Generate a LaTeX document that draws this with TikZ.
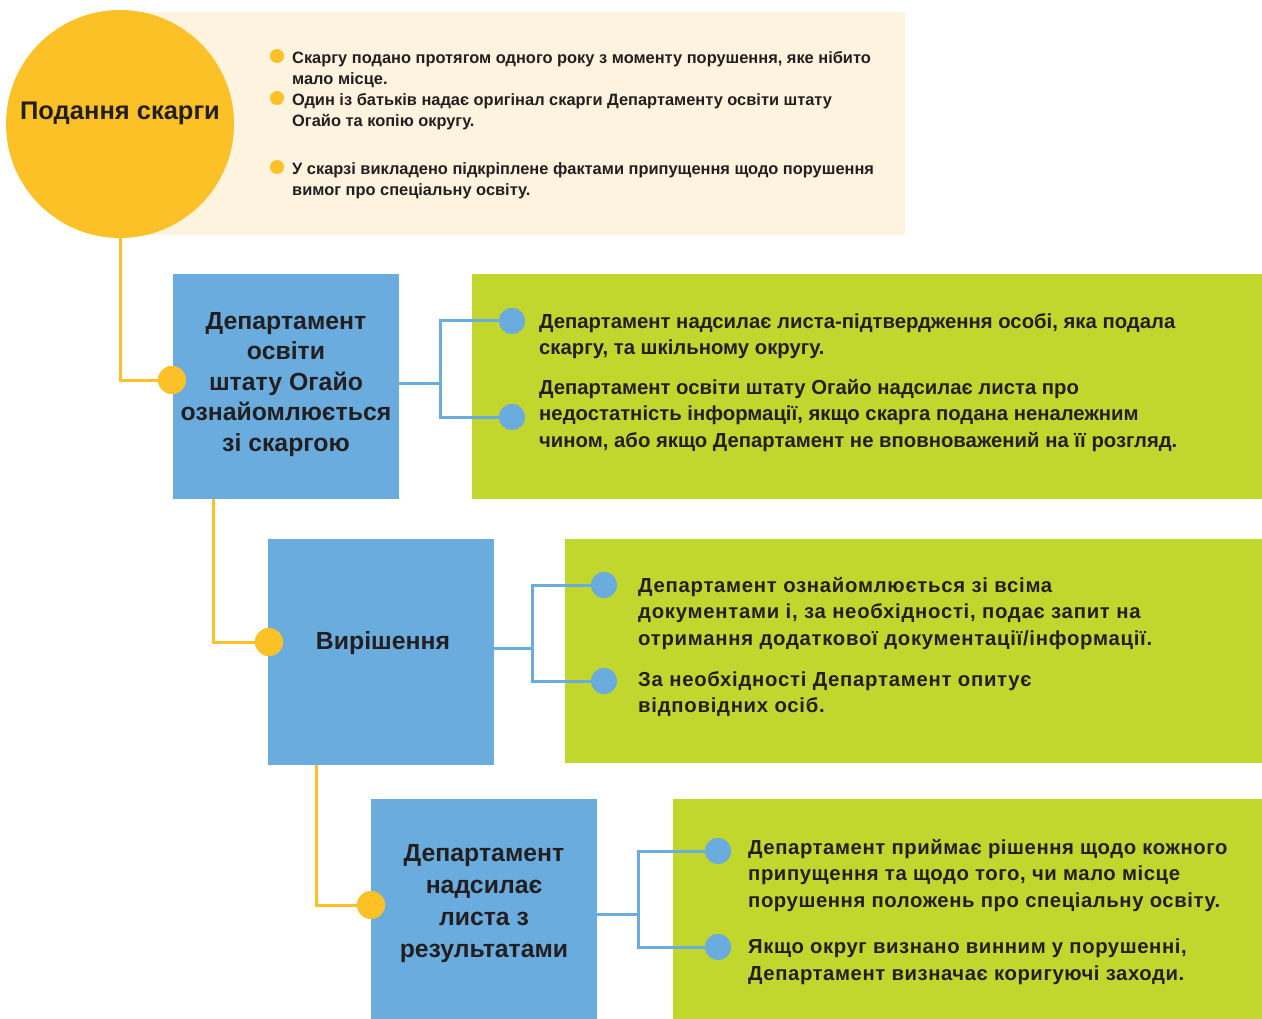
\documentclass[tikz,border=0pt]{standalone}
\usepackage{fontspec}
\setmainfont{Liberation Sans}
\newfontfamily\tfont{Liberation Sans}
\newfontfamily\gfontB{Liberation Sans}[LetterSpace=3.6]
\newfontfamily\gfontC{Liberation Sans}[LetterSpace=2.8]
\definecolor{yel}{HTML}{FCC127}
\definecolor{cream}{HTML}{FDF3DE}
\definecolor{blu}{HTML}{6AACDE}
\definecolor{grn}{HTML}{C1D72E}
\definecolor{ink}{HTML}{231F20}
\tikzset{
  panel/.style={fill=#1, draw=none, inner sep=0, anchor=north west},
  bluebox/.style={fill=blu, draw=none, inner sep=0, anchor=north west, minimum width=226pt},
  ydot/.style={circle, fill=yel, inner sep=0, minimum size=28pt},
  bdot/.style={circle, fill=blu, inner sep=0, minimum size=26pt},
  sdot/.style={circle, fill=yel, inner sep=0, minimum size=14pt},
  yline/.style={draw=yel, line width=3pt},
  bline/.style={draw=blu, line width=3pt},
  small/.style={anchor=north west, inner sep=0, align=left, text=ink,
    font=\tfont\bfseries\fontsize{16.4}{21}\selectfont, execute at begin node=\rule{0pt}{16pt}},
  gtext/.style={anchor=north west, inner sep=0, align=left, text=ink,
    font=\tfont\bfseries\fontsize{20.3}{26.5}\selectfont, execute at begin node=\rule{0pt}{20pt}},
  gtextB/.style={gtext, font=\gfontB\bfseries\fontsize{20.3}{26.5}\selectfont},
  gtextC/.style={gtext, font=\gfontC\bfseries\fontsize{20.3}{26.5}\selectfont},
  title/.style={anchor=north, inner sep=0, align=center, text=ink,
    font=\tfont\bfseries\fontsize{24.8}{30.5}\selectfont, execute at begin node=\rule{0pt}{24pt}},
}
\begin{document}
\begin{tikzpicture}[x=1pt,y=-1pt]
\useasboundingbox (0,0) rectangle (1262,1019);
% panels
\node[panel=cream, minimum width=787pt, minimum height=223pt] (cream) at (118,12) {};
\node[circle, fill=yel, inner sep=0, minimum size=228pt] (start) at (120,124) {};
\node[panel=grn, minimum width=790pt, minimum height=225pt] (g1) at (472,274) {};
\node[panel=grn, minimum width=697pt, minimum height=224pt] (g2) at (565,539) {};
\node[panel=grn, minimum width=589pt, minimum height=220pt] (g3) at (673,799) {};
\node[bluebox, minimum height=225pt] (b1) at (173,274) {};
\node[bluebox, minimum height=226pt] (b2) at (268,539) {};
\node[bluebox, minimum height=220pt] (b3) at (371,799) {};
% dots
\node[ydot] (y1) at (172,380) {};
\node[ydot] (y2) at (269,642) {};
\node[ydot] (y3) at (371,905) {};
\node[bdot] (d1a) at (512,321) {};
\node[bdot] (d1b) at (512,417) {};
\node[bdot] (d2a) at (604,585) {};
\node[bdot] (d2b) at (604,681) {};
\node[bdot] (d3a) at (718,851) {};
\node[bdot] (d3b) at (718,947) {};
\node[sdot] (s1) at (277,56) {};
\node[sdot] (s2) at (277,98) {};
\node[sdot] (s3) at (277,167) {};
% junction coordinates
\coordinate (j1) at (440,383);
\coordinate (j2) at (532,648);
\coordinate (j3) at (638,914);
\coordinate (o1) at (213,499);
\coordinate (o2) at (316,765);
% connectors
\draw[yline] (start.south) |- (y1.west);
\draw[yline] (o1) |- (y2.west);
\draw[yline] (o2) |- (y3.west);
\draw[bline] (b1.east |- j1) -- (j1);
\draw[bline] (d1a.west) -| (j1) |- (d1b.west);
\draw[bline] (b2.east |- j2) -- (j2);
\draw[bline] (d2a.west) -| (j2) |- (d2b.west);
\draw[bline] (b3.east |- j3) -- (j3);
\draw[bline] (d3a.west) -| (j3) |- (d3b.west);
% redraw dots on top
\foreach \n in {y1,y2,y3}{\fill[yel] (\n) circle (14pt);}
\foreach \n in {d1a,d1b,d2a,d2b,d3a,d3b}{\fill[blu] (\n) circle (13pt);}
% texts
\node[title, anchor=base, font=\tfont\bfseries\fontsize{25.5}{31}\selectfont] (t0) at (120,120) {Подання скарги};
\node[title] (t1) at (286,312) {Департамент\\освіти\\штату Огайо\\ознайомлюється\\зі скаргою};
\node[title] (t2) at (383,625) {Вирішення};
\node[title, font=\tfont\bfseries\fontsize{24.8}{32}\selectfont] (t3) at (484,844) {Департамент\\надсилає\\листа з\\результатами};
\node[small] (p1) at (292,51) {Скаргу подано протягом одного року з моменту порушення, яке нібито\\мало місце.};
\node[small] (p2) at (292,93) {Один із батьків надає оригінал скарги Департаменту освіти штату\\Огайо та копію округу.};
\node[small] (p3) at (292,162) {У скарзі викладено підкріплене фактами припущення щодо порушення\\вимог про спеціальну освіту.};
\node[gtext] (q1) at (539,313) {Департамент надсилає листа-підтвердження особі, яка подала\\скаргу, та шкільному округу.};
\node[gtext] (q2) at (539,379) {Департамент освіти штату Огайо надсилає листа про\\недостатність інформації, якщо скарга подана неналежним\\чином, або якщо Департамент не вповноважений на її розгляд.};
\node[gtextB] (q3) at (638,577) {Департамент ознайомлюється зі всіма\\документами і, за необхідності, подає запит на\\отримання додаткової документації/інформації.};
\node[gtextB] (q4) at (638,671) {За необхідності Департамент опитує\\відповідних осіб.};
\node[gtextC] (q5) at (748,839) {Департамент приймає рішення щодо кожного\\припущення та щодо того, чи мало місце\\порушення положень про спеціальну освіту.};
\node[gtextC] (q6) at (748,939) {Якщо округ визнано винним у порушенні,\\Департамент визначає коригуючі заходи.};
\end{tikzpicture}
\end{document}
